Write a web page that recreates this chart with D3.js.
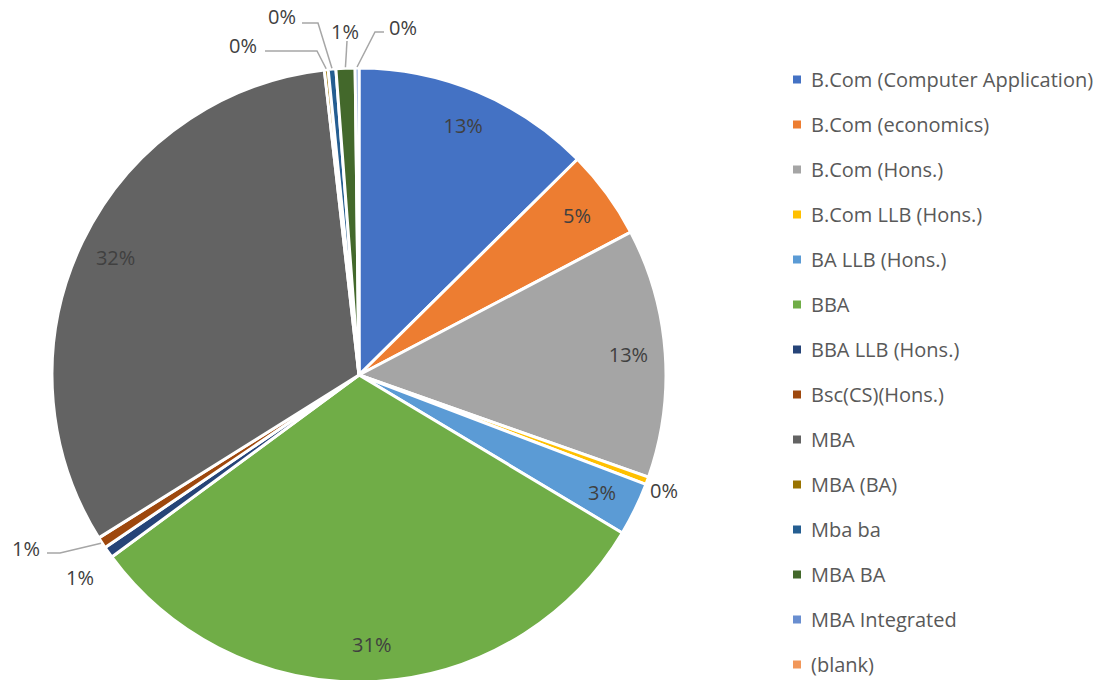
<!DOCTYPE html>
<html>
<head>
<meta charset="utf-8">
<script src="https://cdn.jsdelivr.net/npm/d3@7"></script>
<style>
  body { margin: 0; background: #fff; }
  svg text { font-family: "Open Sans", "Noto Sans", sans-serif; }
</style>
</head>
<body>
<svg id="chart" width="1118" height="680"></svg>
<script>
// categories and counts (total = 1000)
var categories = [
  'B.Com (Computer Application)', 'B.Com (economics)', 'B.Com (Hons.)',
  'B.Com LLB (Hons.)', 'BA LLB (Hons.)', 'BBA', 'BBA LLB (Hons.)',
  'Bsc(CS)(Hons.)', 'MBA', 'MBA (BA)', 'Mba ba', 'MBA BA',
  'MBA Integrated', '(blank)'
];
var counts = [126, 47, 131, 4, 28, 313, 6, 6, 321, 2, 4, 10, 2, 0];
var colors = [
  '#4472C4', '#ED7D31', '#A5A5A5', '#FFC000', '#5B9BD5', '#70AD47', '#264478',
  '#9E480E', '#636363', '#997300', '#255E91', '#43682B', '#698ED0', '#F1975A'
];

var data = categories.map(function(c, i) {
  return {name: c, value: counts[i], color: colors[i]};
});

// labels that sit outside the pie (label centre + elbow of the leader line)
var outside = {
  'B.Com LLB (Hons.)': {lx: 664, ly: 491},
  'BBA LLB (Hons.)':   {lx: 80,  ly: 578},
  'Bsc(CS)(Hons.)':    {lx: 26,  ly: 549, line: [[47, 553], [60, 553]]},
  'MBA (BA)':          {lx: 243, ly: 46,  line: [[265, 51], [317, 51]]},
  'Mba ba':            {lx: 282, ly: 17,  line: [[302, 23], [318, 23]]},
  'MBA BA':            {lx: 345, ly: 32,  line: [[347, 41]]},
  'MBA Integrated':    {lx: 403, ly: 28,  line: [[384, 32], [375, 32]]}
};

var cx = 359, cy = 375, r = 307;
var svg = d3.select('#chart');
var total = d3.sum(counts);
var pct = d3.format('.0%');

var pie = d3.pie().sort(null).value(function(d) { return d.value; });
var arcs = pie(data.filter(function(d) { return d.value > 0; }));

var arc = d3.arc().innerRadius(0).outerRadius(r);
var labelArc = d3.arc().innerRadius(r * 0.88).outerRadius(r * 0.88);
var rimArc = d3.arc().innerRadius(r + 1).outerRadius(r + 1);

var g = svg.append('g').attr('transform', 'translate(' + cx + ',' + cy + ')');

// slices
g.selectAll('path.slice')
  .data(arcs)
  .enter()
    .append('path')
    .classed('slice', true)
    .attr('d', arc)
    .attr('fill', function(d) { return d.data.color; })
    .attr('stroke', '#fff')
    .attr('stroke-width', 3)
    .attr('stroke-linejoin', 'round');

// leader lines
svg.selectAll('polyline.leader')
  .data(arcs.filter(function(d) { return outside[d.data.name] && outside[d.data.name].line; }))
  .enter()
    .append('polyline')
    .classed('leader', true)
    .attr('fill', 'none')
    .attr('stroke', '#A6A6A6')
    .attr('stroke-width', 1.5)
    .attr('points', function(d) {
      var c = rimArc.centroid(d);
      var pts = outside[d.data.name].line.concat([[cx + c[0], cy + c[1]]]);
      return pts.map(function(p) { return p.join(','); }).join(' ');
    });

// data labels
svg.selectAll('text.dlabel')
  .data(arcs)
  .enter()
    .append('text')
    .classed('dlabel', true)
    .attr('text-anchor', 'middle')
    .attr('dy', '0.35em')
    .attr('font-size', 20)
    .attr('fill', '#404040')
    .attr('x', function(d) {
      var o = outside[d.data.name];
      return o ? o.lx : cx + labelArc.centroid(d)[0];
    })
    .attr('y', function(d) {
      var o = outside[d.data.name];
      return o ? o.ly : cy + labelArc.centroid(d)[1];
    })
    .text(function(d) { return pct(d.data.value / total); });

// legend
var legendY = d3.scaleBand()
  .domain(categories)
  .range([57, 687]);

var legend = svg.append('g')
  .selectAll('g.item')
  .data(data)
  .enter()
    .append('g')
    .classed('item', true)
    .attr('transform', function(d) {
      return 'translate(793,' + (legendY(d.name) + legendY.bandwidth() / 2) + ')';
    });

legend.append('rect')
  .attr('x', 0)
  .attr('y', -4)
  .attr('width', 8)
  .attr('height', 8)
  .attr('fill', function(d) { return d.color; });

legend.append('text')
  .attr('x', 18)
  .attr('dy', '0.35em')
  .attr('font-size', 20)
  .attr('fill', '#595959')
  .text(function(d) { return d.name; });
</script>
</body>
</html>
